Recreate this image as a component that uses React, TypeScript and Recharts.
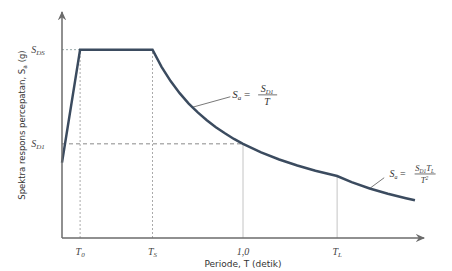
import { LineChart, Line, XAxis, YAxis, ReferenceLine, ReferenceDot } from 'recharts';

// periode T (detik) dan percepatan spektral Sa (dalam satuan S_DS)
const periods = [0, 0.1, 0.5, 0.55, 0.6, 0.65, 0.7, 0.75, 0.8, 0.85, 0.9, 0.95, 1.0, 1.1, 1.2, 1.3, 1.4, 1.52, 1.6, 1.7, 1.8, 1.9, 1.95];
const accel = [0.4, 1.0, 1.0, 0.909, 0.833, 0.769, 0.714, 0.667, 0.625, 0.588, 0.556, 0.526, 0.5, 0.455, 0.417, 0.385, 0.357, 0.329, 0.297, 0.263, 0.235, 0.211, 0.2];

const tickPeriods = [0.1, 0.5, 1.0, 1.52];
const tickNames = [['T', '0'], ['T', 'S'], ['1,0', ''], ['T', 'L']];
const levelValues = [1, 0.5];
const levelNames = [['S', 'DS'], ['S', 'D1']];

const data = periods.map((t, i) => ({ t, sa: accel[i] }));

const AXIS = '#6b6b6b';
const CURVE = '#3b4b5f';
const MATH = '"Liberation Serif", "DejaVu Serif", serif';

const XTick = (props: any) => {
  const { x, y, payload } = props;
  const i = tickPeriods.indexOf(payload.value);
  const [m, s] = tickNames[i] || ['', ''];
  return (
    <text x={x} y={y + 9} textAnchor="middle" fontSize={10} fill="#444" fontFamily={MATH} fontStyle="italic">
      {m}
      {s && <tspan fontSize={7} dy={2}>{s}</tspan>}
    </text>
  );
};

const YTick = (props: any) => {
  const { x, y, payload } = props;
  const i = levelValues.indexOf(payload.value);
  const [m, s] = levelNames[i] || ['', ''];
  return (
    <text x={x - 16} y={y + 3} textAnchor="middle" fontSize={10} fill="#444" fontFamily={MATH} fontStyle="italic">
      {m}
      <tspan fontSize={7} dy={2}>{s}</tspan>
    </text>
  );
};

const YTitle = (props: any) => {
  const vb = props.viewBox || { x: 0, y: 12, width: 62, height: 226 };
  const cx = vb.x + vb.width / 2 - 6;
  const cy = vb.y + vb.height / 2;
  return (
    <text x={cx} y={cy} transform={`rotate(-90 ${cx} ${cy})`} textAnchor="middle" fontSize={8.5} fill="#333" fontFamily="'DejaVu Sans', sans-serif">
      Spektra respons percepatan, S
      <tspan fontSize={6} dy={2}>a</tspan>
      <tspan dy={-2}> (g)</tspan>
    </text>
  );
};

const Formula1 = (props: any) => {
  const { cx, cy } = props;
  return (
    <g fontFamily={MATH} fontStyle="italic" fill="#333">
      <text x={cx} y={cy + 3} fontSize={11}>
        S<tspan fontSize={7} dy={2}>a</tspan>
        <tspan dy={-2} fontStyle="normal"> = </tspan>
      </text>
      <text x={cx + 35} y={cy - 3} fontSize={10} textAnchor="middle">
        S<tspan fontSize={6.5} dy={2}>D1</tspan>
      </text>
      <line x1={cx + 26} x2={cx + 45} y1={cy} y2={cy} stroke="#333" strokeWidth={0.7} />
      <text x={cx + 35} y={cy + 10} fontSize={10} textAnchor="middle">T</text>
    </g>
  );
};

const Formula2 = (props: any) => {
  const { cx, cy } = props;
  return (
    <g fontFamily={MATH} fontStyle="italic" fill="#333">
      <text x={cx} y={cy + 3} fontSize={10}>
        S<tspan fontSize={6} dy={2}>a</tspan>
        <tspan dy={-2} fontStyle="normal"> = </tspan>
      </text>
      <text x={cx + 35} y={cy - 3} fontSize={8.5} textAnchor="middle">
        S<tspan fontSize={5.5} dy={2}>D1</tspan>
        <tspan dy={-2}>T</tspan>
        <tspan fontSize={5.5} dy={2}>L</tspan>
      </text>
      <line x1={cx + 25} x2={cx + 46} y1={cy} y2={cy} stroke="#333" strokeWidth={0.7} />
      <text x={cx + 35} y={cy + 9} fontSize={8.5} textAnchor="middle">
        T<tspan fontSize={5.5} dy={-3}>2</tspan>
      </text>
    </g>
  );
};

// titik ujung garis penunjuk dan posisi rumus (koordinat data)
const leader1 = [{ x: 0.72, y: 0.694 }, { x: 0.93, y: 0.75 }];
const leader2 = [{ x: 1.7, y: 0.263 }, { x: 1.78, y: 0.32 }];
const formula1At = { x: 0.94, y: 0.76 };
const formula2At = { x: 1.81, y: 0.34 };

export default function App() {
  return (
    <div style={{ position: 'absolute', left: 0, top: 0, background: '#fff' }}>
      <LineChart width={452} height={271} data={data} margin={{ top: 12, right: 28, bottom: 0, left: 0 }}>
        <defs>
          <marker id="arrow" viewBox="0 0 10 10" refX="8" refY="5" markerWidth="7" markerHeight="7" orient="auto-start-reverse">
            <path d="M0,1 L9,5 L0,9 L3,5 z" fill={AXIS} />
          </marker>
        </defs>
        <XAxis
          type="number"
          dataKey="t"
          domain={[0, 2]}
          ticks={tickPeriods}
          tickLine={false}
          height={33}
          axisLine={{ stroke: AXIS, strokeWidth: 1.5, markerEnd: 'url(#arrow)' } as any}
          tick={<XTick />}
          label={{ value: 'Periode, T (detik)', position: 'insideBottom', offset: 4, fontSize: 9, fill: '#333', fontFamily: "'DejaVu Sans', sans-serif" }}
        />
        <YAxis
          type="number"
          domain={[0, 1.2]}
          ticks={levelValues}
          tickLine={false}
          width={62}
          axisLine={{ stroke: AXIS, strokeWidth: 1.5, markerStart: 'url(#arrow)' } as any}
          tick={<YTick />}
          label={<YTitle />}
        />
        <ReferenceLine segment={[{ x: 0, y: levelValues[0] }, { x: tickPeriods[0], y: levelValues[0] }]} stroke="#9aa" strokeDasharray="2 2" />
        <ReferenceLine segment={[{ x: 0, y: levelValues[1] }, { x: tickPeriods[2], y: levelValues[1] }]} stroke="#8a8a8a" strokeDasharray="4 3" />
        <ReferenceLine segment={[{ x: tickPeriods[0], y: 0 }, { x: tickPeriods[0], y: levelValues[0] }]} stroke="#aaa" strokeDasharray="2 2" />
        <ReferenceLine segment={[{ x: tickPeriods[1], y: 0 }, { x: tickPeriods[1], y: levelValues[0] }]} stroke="#aaa" strokeDasharray="2 2" />
        <ReferenceLine segment={[{ x: tickPeriods[2], y: 0 }, { x: tickPeriods[2], y: accel[12] }]} stroke="#c4c4c4" />
        <ReferenceLine segment={[{ x: tickPeriods[3], y: 0 }, { x: tickPeriods[3], y: accel[17] }]} stroke="#c4c4c4" />
        <ReferenceLine segment={leader1} stroke="#555" strokeWidth={0.8} />
        <ReferenceLine segment={leader2} stroke="#555" strokeWidth={0.8} />
        <Line type="linear" dataKey="sa" stroke={CURVE} strokeWidth={2.5} dot={false} isAnimationActive={false} />
        <ReferenceDot x={formula1At.x} y={formula1At.y} r={0} shape={<Formula1 />} />
        <ReferenceDot x={formula2At.x} y={formula2At.y} r={0} shape={<Formula2 />} />
      </LineChart>
    </div>
  );
}
